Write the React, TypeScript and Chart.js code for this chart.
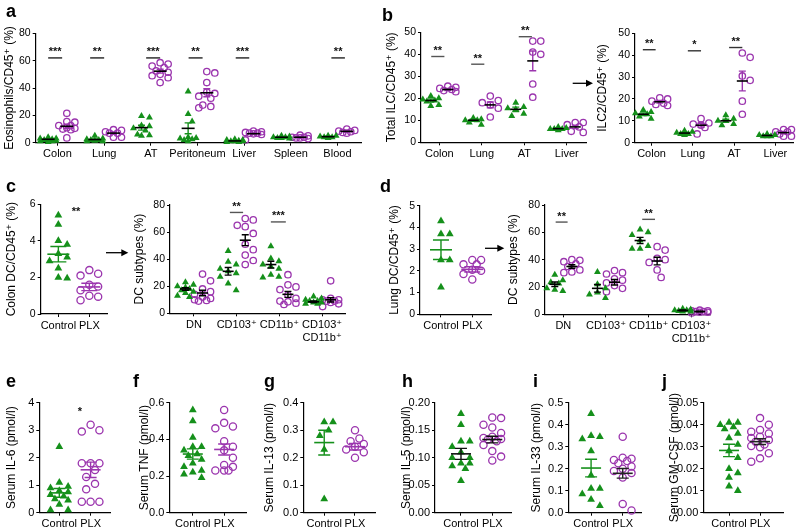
import React, { useEffect, useRef } from 'react';
import { Chart, registerables } from 'chart.js';
Chart.register(...registerables);

const GREEN = '#15901b';
const PURPLE = '#9b35ae';
const FONT = '"Liberation Sans", Arial, Helvetica, "DejaVu Sans", sans-serif';

// ---------- Panel a: eosinophils ----------
const catsA = ['Colon', 'Lung', 'AT', 'Peritoneum', 'Liver', 'Spleen', 'Blood'];
const yTicksA = [0, 20, 40, 60, 80];
const eosCtl = [
  [4, 3, 3, 2.5, 2, 2, 1.5, 1, 1, 0.5],
  [5, 3, 2.5, 2, 2, 1.5, 1, 1],
  [19.5, 18.5, 12.5, 12, 10.5, 9, 6, 5.5, 5],
  [37.5, 21, 15.5, 4, 3.5, 3, 2.5, 2, 1],
  [2.5, 2, 2, 1.5, 1, 1, 1, 0.5, 0.5],
  [5, 4.5, 4, 4, 3.5, 3.5, 3],
  [5, 5, 4.5, 4, 4, 3.5],
];
const eosPlx = [
  [21.5, 15.5, 15, 12.5, 12.5, 11, 10.5, 10, 9.5, 3.5],
  [9.5, 9, 8, 7, 7, 4, 4],
  [58.5, 57.5, 56, 55, 52.5, 51.5, 50, 49, 47.5, 44],
  [52, 51, 44, 37, 36, 34, 32.5, 27.5, 26.5, 25.5],
  [8.5, 8, 7.5, 7, 7, 6.5, 6, 2],
  [5.5, 5, 4, 4, 3.5, 3.5, 3],
  [10, 9, 8.5, 8, 7.5, 7],
];
const eosCtlMean = [2.5, 2.3, 11, 10.5, 1.3, 4, 4.4];
const eosCtlSem = [0.4, 0.4, 1.8, 4, 0.2, 0.3, 0.3];
const eosPlxMean = [12, 7, 52.3, 36.5, 6.6, 4, 8.3];
const eosPlxSem = [1.5, 0.8, 1.4, 2.9, 0.6, 0.4, 0.5];
const eosSig = [
  { c: 0, from: -0.2, to: 0.1, y: 62, label: '***' },
  { c: 1, from: -0.3, to: 0, y: 62, label: '**' },
  { c: 2, from: -0.1, to: 0.2, y: 62, label: '***' },
  { c: 3, from: -0.19, to: 0.11, y: 62, label: '**' },
  { c: 4, from: -0.18, to: 0.11, y: 62, label: '***' },
  { c: 6, from: -0.13, to: 0.16, y: 62, label: '**' },
];

// ---------- Panel b: ILC ----------
const catsB = ['Colon', 'Lung', 'AT', 'Liver'];
const yTicksB = [0, 10, 20, 30, 40, 50];
const ilcCtl = [
  [21, 20, 19.5, 19, 18.5, 17, 16.5],
  [11, 10.5, 10, 10, 9, 8],
  [18, 16, 15.5, 15, 13, 12],
  [7, 6.5, 6, 6, 6, 5.5],
];
const ilcPlx = [
  [25.5, 25, 24.5, 24, 23.5, 23],
  [21, 19, 18, 17, 15.5, 11.5],
  [46, 46, 41, 40, 26.5, 20.5],
  [9, 9, 8, 7, 5, 4.5],
];
const ilcCtlMean = [19, 10, 15, 6.2];
const ilcCtlSem = [0.7, 0.5, 1, 0.3];
const ilcPlxMean = [24, 17, 37, 7];
const ilcPlxSem = [0.5, 1.3, 4.5, 0.8];
const ilcSig = [
  { c: 0, from: -0.19, to: 0.12, y: 39, label: '**' },
  { c: 1, from: -0.25, to: 0.06, y: 35.5, label: '**' },
  { c: 2, from: -0.13, to: 0.18, y: 48, label: '**' },
];
const ilc2Ctl = [
  [15, 14, 13.5, 13, 12, 11],
  [5.5, 5, 4.5, 4, 4, 3.5],
  [12.5, 11, 10, 10, 8.5, 8],
  [4, 3.5, 3.5, 3, 3, 3],
];
const ilc2Plx = [
  [20.5, 20, 19, 18, 17.5, 17],
  [11, 9, 8.5, 8, 7, 4],
  [41, 39, 30.5, 28.5, 19, 13],
  [6, 6, 5, 5, 4, 3, 3],
];
const ilc2CtlMean = [13, 4.4, 10, 3.3];
const ilc2CtlSem = [0.6, 0.3, 0.7, 0.2];
const ilc2PlxMean = [18.7, 8, 28.2, 4.6];
const ilc2PlxSem = [0.6, 0.9, 4.5, 0.5];
const ilc2Sig = [
  { c: 0, from: -0.21, to: 0.1, y: 42.5, label: '**' },
  { c: 1, from: -0.12, to: 0.2, y: 42, label: '*' },
  { c: 2, from: -0.12, to: 0.2, y: 43.5, label: '**' },
];

// ---------- Panel c / d: DC ----------
const groupCats = ['Control', 'PLX'];
const dcCats = ['DN', 'CD103⁺', 'CD11b⁺', ['CD103⁺', 'CD11b⁺']];
const yTicksDC = [0, 20, 40, 60, 80];
const colonDcCtl = [5.4, 4.9, 4.0, 3.8, 3.3, 3.1, 2.9, 2.5, 2.0, 1.95];
const colonDcPlx = [2.4, 2.2, 2.1, 1.6, 1.5, 1.3, 1.0, 0.95, 0.75];
const colonDcMean = [3.27, 1.48];
const colonDcSem = [0.42, 0.2];
const yTicksColonDc = [0, 2, 4, 6];
const colonSubCtl = [
  [23, 21, 20, 19, 18, 17, 16, 15, 13, 12],
  [46, 38, 36, 33, 31, 29.5, 27, 22, 17],
  [49.5, 40.5, 38.5, 36, 34.5, 33, 28.5, 27, 26.5],
  [12.5, 11, 10, 9, 9, 8, 8, 7, 7],
];
const colonSubPlx = [
  [29, 24, 18, 16, 14, 12, 11, 10, 9.5, 9],
  [70, 69, 65, 64, 59, 51, 47, 43, 39, 36],
  [28.5, 21, 19.5, 17.5, 13.5, 11, 9, 8.5, 7.5, 6.5],
  [24, 11, 10, 10, 9, 9, 8, 7, 5],
];
const colonSubCtlMean = [18, 31, 36, 8.5];
const colonSubCtlSem = [1, 2.8, 2.5, 0.6];
const colonSubPlxMean = [15, 54, 14, 10];
const colonSubPlxSem = [2, 4, 2.2, 1.6];
const colonSubSig = [
  { c: 1, from: -0.16, to: 0.15, y: 74.5, label: '**' },
  { c: 2, from: -0.2, to: 0.15, y: 67.5, label: '***' },
];
const lungDcCtl = [4.3, 3.7, 3.7, 2.5, 2.5, 1.25];
const lungDcPlx = [2.5, 2.5, 2.3, 2.3, 2.05, 2.0, 1.85, 1.6];
const lungDcMean = [2.97, 2.07];
const lungDcSem = [0.45, 0.12];
const yTicksLungDc = [0, 1, 2, 3, 4, 5];
const lungSubCtl = [
  [29, 25, 23.5, 22.5, 19, 18, 17],
  [31, 22, 19, 16, 14.5, 12],
  [62, 60, 58, 54, 50, 48, 48],
  [4, 3.5, 3, 3, 2.5, 2, 2],
];
const lungSubPlx = [
  [40, 39.5, 38.5, 37, 35, 32.5, 31, 30.5],
  [32, 30.5, 29.5, 26, 25, 23, 21, 19, 16.5],
  [49.5, 47, 41, 40, 38, 32.5, 27],
  [3, 2.5, 2.5, 2, 2, 1.5, 1.5, 1],
];
const lungSubCtlMean = [22, 19, 54, 2.8];
const lungSubCtlSem = [1.6, 2.8, 2.3, 0.3];
const lungSubPlxMean = [35, 23.5, 39, 2];
const lungSubPlxSem = [1.3, 2, 2.8, 0.2];
const lungSubSig = [
  { c: 0, from: -0.18, to: 0.1, y: 67.5, label: '**' },
  { c: 2, from: -0.15, to: 0.15, y: 69.5, label: '**' },
];

// ---------- Panels e-j: serum ----------
const il6Ctl = [2.4, 1.1, 0.95, 0.9, 0.8, 0.75, 0.65, 0.6, 0.5, 0.45, 0.3, 0.1, 0.1];
const il6Plx = [3.2, 3.0, 2.95, 1.8, 1.8, 1.8, 1.55, 1.3, 1.05, 0.85, 0.4, 0.4, 0.4];
const il6Mean = [0.72, 1.56];
const il6Sem = [0.16, 0.28];
const yTicksIl6 = [0, 1, 2, 3, 4];
const tnfCtl = [0.56, 0.5, 0.41, 0.36, 0.36, 0.34, 0.32, 0.31, 0.29, 0.27, 0.25, 0.23, 0.22, 0.21, 0.19];
const tnfPlx = [0.56, 0.49, 0.47, 0.46, 0.39, 0.36, 0.34, 0.3, 0.26, 0.25, 0.23, 0.23, 0.23];
const tnfMean = [0.32, 0.345];
const tnfSem = [0.028, 0.03];
const yTicksTnf = [0, 0.2, 0.4, 0.6];
const il13Ctl = [0.33, 0.33, 0.3, 0.28, 0.23, 0.05];
const il13Plx = [0.3, 0.27, 0.26, 0.25, 0.24, 0.23, 0.22, 0.2];
const il13Mean = [0.255, 0.24];
const il13Sem = [0.045, 0.012];
const yTicksIl13 = [0, 0.1, 0.2, 0.3, 0.4];
const il5Ctl = [0.18, 0.16, 0.13, 0.13, 0.12, 0.11, 0.1, 0.1, 0.09, 0.09, 0.085, 0.08, 0.058];
const il5Plx = [0.173, 0.172, 0.16, 0.155, 0.145, 0.138, 0.136, 0.134, 0.133, 0.13, 0.123, 0.112, 0.102, 0.095];
const il5Mean = [0.107, 0.133];
const il5Sem = [0.01, 0.006];
const yTicksIl5 = [0, 0.05, 0.1, 0.15, 0.2];
const il33Ctl = [0.45, 0.35, 0.345, 0.335, 0.28, 0.17, 0.11, 0.11, 0.085, 0.06, 0.032];
const il33Plx = [0.345, 0.25, 0.245, 0.24, 0.235, 0.225, 0.21, 0.2, 0.19, 0.18, 0.16, 0.04, 0.01];
const il33Mean = [0.203, 0.179];
const il33Sem = [0.04, 0.022];
const yTicksIl33 = [0, 0.1, 0.2, 0.3, 0.4, 0.5];
const gmCtl = [0.041, 0.041, 0.04, 0.039, 0.038, 0.036, 0.034, 0.031, 0.028, 0.025, 0.02, 0.018, 0.016, 0.012, 0.01];
const gmPlx = [0.043, 0.04, 0.0376, 0.0368, 0.036, 0.0345, 0.034, 0.033, 0.0323, 0.031, 0.0303, 0.0297, 0.027, 0.0247, 0.0232];
const gmMean = [0.0283, 0.0323];
const gmSem = [0.0028, 0.0013];
const yTicksGm = [0, 0.01, 0.02, 0.03, 0.04, 0.05];

// ---------- types & helpers ----------
type Group = {
  vals: number[][]; pos: number[]; mean: number[]; sem: number[];
  color: string; shape: string; meanColor: string; barColor: string;
};
type Sig = { c: number; from: number; to: number; y: number; label: string; line?: boolean };
type Spec = {
  area: number[]; titleX: number; title: string; xMin: number; xMax: number;
  cats: any[]; yTicks: number[]; yDec: number; yTickSize: number;
  groups: Group[]; sig: Sig[]; sigColor: string;
  halfW: number; capW: number; rTri: number; rCirc: number; xH: number; maxOff: number;
};

function multiGroups(ctl: number[][], plx: number[][], cm: number[], cs: number[], pm: number[], ps: number[], meanCol: string | null, barCol: string | null): Group[] {
  return [
    { vals: ctl, pos: ctl.map((_, i) => i - 0.2), mean: cm, sem: cs, color: GREEN, shape: 'triangle', meanColor: meanCol || GREEN, barColor: barCol || GREEN },
    { vals: plx, pos: plx.map((_, i) => i + 0.2), mean: pm, sem: ps, color: PURPLE, shape: 'circle', meanColor: meanCol || PURPLE, barColor: barCol || PURPLE },
  ];
}
function pairGroups(ctl: number[], plx: number[], m: number[], s: number[], ctlCol: string, plxCol: string): Group[] {
  return [
    { vals: [ctl], pos: [0], mean: [m[0]], sem: [s[0]], color: GREEN, shape: 'triangle', meanColor: ctlCol, barColor: ctlCol },
    { vals: [plx], pos: [1], mean: [m[1]], sem: [s[1]], color: PURPLE, shape: 'circle', meanColor: plxCol, barColor: plxCol },
  ];
}

function swarm(vals: number[], c: number, pxX: number, pxY: number, d: number, maxOff: number): number[] {
  const idx = vals.map((_, i) => i).sort((a, b) => vals[b] - vals[a]);
  const placed: number[][] = [];
  const out = new Array(vals.length).fill(c);
  const step = d / 2;
  for (const i of idx) {
    const y = vals[i] * pxY;
    let best = 0, bestScore = -1;
    for (let k = 0; k < 40; k++) {
      const o = k === 0 ? 0 : (k % 2 ? 1 : -1) * Math.ceil(k / 2) * step;
      if (Math.abs(o) > maxOff) break;
      let minD = Infinity;
      for (const p of placed) minD = Math.min(minD, Math.hypot(p[0] - o, p[1] - y));
      if (minD >= d) { best = o; bestScore = Infinity; break; }
      if (minD > bestScore) { bestScore = minD; best = o; }
    }
    placed.push([best, y]);
    out[i] = c + best / pxX;
  }
  return out;
}

const top3 = { halfW: 6, capW: 3.5, rTri: 4, rCirc: 3.2, maxOff: 10 };
const pair = { halfW: 10, capW: 6, rTri: 4.5, rCirc: 3.6, maxOff: 11 };

const SPECS: Spec[] = [
  {
    area: [35.7, 33.3, 361.7, 142.7], titleX: 10, title: 'Eosinophils/CD45⁺ (%)', xMin: -0.467, xMax: 6.52,
    cats: catsA, yTicks: yTicksA, yDec: 0, yTickSize: 10.5,
    groups: multiGroups(eosCtl, eosPlx, eosCtlMean, eosCtlSem, eosPlxMean, eosPlxSem, '#000', null),
    sig: eosSig, sigColor: '#222', xH: 30, ...top3, halfW: 6.5,
  },
  {
    area: [421, 32.3, 586.7, 142.3], titleX: 392, title: 'Total ILC/CD45⁺ (%)', xMin: -0.431, xMax: 3.47,
    cats: catsB, yTicks: yTicksB, yDec: 0, yTickSize: 10.5,
    groups: multiGroups(ilcCtl, ilcPlx, ilcCtlMean, ilcCtlSem, ilcPlxMean, ilcPlxSem, '#000', null),
    sig: ilcSig, sigColor: '#555', xH: 30, ...top3, halfW: 5.5,
  },
  {
    area: [635, 33.3, 797, 142.7], titleX: 603, title: 'ILC2/CD45⁺ (%)', xMin: -0.4, xMax: 3.44,
    cats: catsB, yTicks: yTicksB, yDec: 0, yTickSize: 10.5,
    groups: multiGroups(ilc2Ctl, ilc2Plx, ilc2CtlMean, ilc2CtlSem, ilc2PlxMean, ilc2PlxSem, '#000', null),
    sig: ilc2Sig, sigColor: '#333', xH: 30, ...top3, halfW: 5.5,
  },
  {
    area: [40.7, 204.3, 107.3, 314], titleX: 12, title: 'Colon DC/CD45⁺ (%)', xMin: -0.57, xMax: 1.58,
    cats: groupCats, yTicks: yTicksColonDc, yDec: 0, yTickSize: 10.5,
    groups: pairGroups(colonDcCtl, colonDcPlx, colonDcMean, colonDcSem, GREEN, PURPLE),
    sig: [{ c: 0, from: 0.57, to: 0.57, y: 5.29, label: '**', line: false }], sigColor: '#222', xH: 30, ...pair, halfW: 11, capW: 8,
  },
  {
    area: [170, 205, 345, 313.3], titleX: 140, title: 'DC subtypes (%)', xMin: -0.562, xMax: 3.536,
    cats: dcCats, yTicks: yTicksDC, yDec: 0, yTickSize: 10.5,
    groups: multiGroups(colonSubCtl, colonSubPlx, colonSubCtlMean, colonSubCtlSem, colonSubPlxMean, colonSubPlxSem, '#000', '#000'),
    sig: colonSubSig, sigColor: '#555', xH: 44, ...top3, halfW: 5.5,
  },
  {
    area: [420, 205.7, 491.7, 314.3], titleX: 395, title: 'Lung DC/CD45⁺ (%)', xMin: -0.67, xMax: 1.62,
    cats: groupCats, yTicks: yTicksLungDc, yDec: 0, yTickSize: 10.5,
    groups: pairGroups(lungDcCtl, lungDcPlx, lungDcMean, lungDcSem, GREEN, PURPLE),
    sig: [], sigColor: '#222', xH: 30, ...pair, halfW: 11, capW: 8,
  },
  {
    area: [545, 205, 710, 314.3], titleX: 514, title: 'DC subtypes (%)', xMin: -0.43, xMax: 3.44,
    cats: dcCats, yTicks: yTicksDC, yDec: 0, yTickSize: 10.5,
    groups: multiGroups(lungSubCtl, lungSubPlx, lungSubCtlMean, lungSubCtlSem, lungSubPlxMean, lungSubPlxSem, '#000', '#000'),
    sig: lungSubSig, sigColor: '#555', xH: 44, ...top3, halfW: 5.5,
  },
  {
    area: [39.3, 402.7, 110, 512.7], titleX: 12, title: 'Serum IL-6 (pmol/l)', xMin: -0.64, xMax: 1.62,
    cats: groupCats, yTicks: yTicksIl6, yDec: 0, yTickSize: 11,
    groups: pairGroups(il6Ctl, il6Plx, il6Mean, il6Sem, GREEN, PURPLE),
    sig: [{ c: 0, from: 0.66, to: 0.66, y: 3.47, label: '*', line: false }], sigColor: '#222', xH: 30, ...pair,
  },
  {
    area: [169.3, 402.7, 246.7, 512.7], titleX: 145, title: 'Serum TNF (pmol/l)', xMin: -0.75, xMax: 1.72,
    cats: groupCats, yTicks: yTicksTnf, yDec: 1, yTickSize: 11,
    groups: pairGroups(tnfCtl, tnfPlx, tnfMean, tnfSem, GREEN, PURPLE),
    sig: [], sigColor: '#222', xH: 30, ...pair,
  },
  {
    area: [303.3, 402.7, 375, 512.7], titleX: 270, title: 'Serum IL-13 (pmol/l)', xMin: -0.68, xMax: 1.65,
    cats: groupCats, yTicks: yTicksIl13, yDec: 1, yTickSize: 11,
    groups: pairGroups(il13Ctl, il13Plx, il13Mean, il13Sem, GREEN, PURPLE),
    sig: [], sigColor: '#222', xH: 30, ...pair,
  },
  {
    area: [435, 402.7, 511.7, 512.7], titleX: 406.7, title: 'Serum IL-5 (pmol/l)', xMin: -0.83, xMax: 1.62,
    cats: groupCats, yTicks: yTicksIl5, yDec: 2, yTickSize: 11,
    groups: pairGroups(il5Ctl, il5Plx, il5Mean, il5Sem, '#111', '#111'),
    sig: [], sigColor: '#222', xH: 30, ...pair,
  },
  {
    area: [568.3, 402.7, 641.7, 512.7], titleX: 537, title: 'Serum IL-33 (pmol/l)', xMin: -0.72, xMax: 1.6,
    cats: groupCats, yTicks: yTicksIl33, yDec: 1, yTickSize: 11,
    groups: pairGroups(il33Ctl, il33Plx, il33Mean, il33Sem, GREEN, '#222'),
    sig: [], sigColor: '#222', xH: 30, ...pair,
  },
  {
    area: [703.3, 402.7, 783.3, 512.7], titleX: 675, title: 'Serum GM-CSF (pmol/l)', xMin: -0.83, xMax: 1.75,
    cats: groupCats, yTicks: yTicksGm, yDec: 2, yTickSize: 11,
    groups: pairGroups(gmCtl, gmPlx, gmMean, gmSem, GREEN, '#222'),
    sig: [], sigColor: '#222', xH: 30, ...pair,
  },
];

const LETTERS: [string, number, number][] = [
  ['a', 6, 2], ['b', 382, 6], ['c', 6, 177], ['d', 380, 177],
  ['e', 6, 371.5], ['f', 133, 371.5], ['g', 264, 371.5], ['h', 402, 371.5], ['i', 533, 371.5], ['j', 662, 371.5],
];

function ChartBox({ spec }: { spec: Spec }) {
  const ref = useRef<HTMLCanvasElement>(null);
  const [L, T, R, B] = spec.area;
  const left = Math.floor(spec.titleX - 7.2);
  const top = Math.floor(T - 18);
  const right = Math.min(798, Math.ceil(R + 8));
  const bottom = Math.ceil(B + spec.xH);
  const W = right - left;
  const H = bottom - top;

  useEffect(() => {
    const yMax = spec.yTicks[spec.yTicks.length - 1];
    const pxX = (R - L) / (spec.xMax - spec.xMin);
    const pxY = (B - T) / yMax;
    const datasets = spec.groups.map((g) => {
      const pts: { x: number; y: number }[] = [];
      const r = g.shape === 'triangle' ? spec.rTri : spec.rCirc;
      g.vals.forEach((vs, i) => {
        const xs = swarm(vs, g.pos[i], pxX, pxY, 2 * spec.rCirc + 1.6, spec.maxOff);
        vs.forEach((v, k) => pts.push({ x: xs[k], y: v }));
      });
      return {
        data: pts,
        showLine: false,
        clip: false as any,
        pointStyle: g.shape as any,
        pointRadius: r,
        pointHoverRadius: r,
        pointBackgroundColor: g.shape === 'triangle' ? g.color : 'rgba(0,0,0,0)',
        pointBorderColor: g.color,
        pointBorderWidth: g.shape === 'triangle' ? 0 : 1.3,
      };
    });

    const statsPlugin = {
      id: 'stats',
      afterDatasetsDraw(chart: any) {
        const ctx = chart.ctx;
        const x = chart.scales.x;
        const y = chart.scales.y;
        ctx.save();
        ctx.lineWidth = 1.4;
        for (const g of spec.groups) {
          g.mean.forEach((m, i) => {
            const cx = x.getPixelForValue(g.pos[i]);
            const my = y.getPixelForValue(m);
            const t = y.getPixelForValue(m + g.sem[i]);
            const b = y.getPixelForValue(m - g.sem[i]);
            ctx.strokeStyle = g.barColor;
            ctx.beginPath();
            ctx.moveTo(cx, t); ctx.lineTo(cx, b);
            ctx.moveTo(cx - spec.capW, t); ctx.lineTo(cx + spec.capW, t);
            ctx.moveTo(cx - spec.capW, b); ctx.lineTo(cx + spec.capW, b);
            ctx.stroke();
            ctx.strokeStyle = g.meanColor;
            ctx.lineWidth = 1.6;
            ctx.beginPath();
            ctx.moveTo(cx - spec.halfW, my); ctx.lineTo(cx + spec.halfW, my);
            ctx.stroke();
            ctx.lineWidth = 1.4;
          });
        }
        for (const s of spec.sig) {
          const x0 = x.getPixelForValue(s.c + s.from);
          const x1 = x.getPixelForValue(s.c + s.to);
          const ly = y.getPixelForValue(s.y);
          if (s.line !== false) {
            ctx.strokeStyle = spec.sigColor;
            ctx.lineWidth = 1.4;
            ctx.beginPath(); ctx.moveTo(x0, ly); ctx.lineTo(x1, ly); ctx.stroke();
          }
          ctx.fillStyle = '#111';
          ctx.font = `bold 11px ${FONT}`;
          ctx.textAlign = 'center';
          ctx.textBaseline = 'alphabetic';
          ctx.fillText(s.label, (x0 + x1) / 2, ly - 2.5);
        }
        ctx.restore();
      },
    };

    const axisCommon = {
      grid: { drawOnChartArea: false, drawTicks: true, tickLength: 3, color: '#000', lineWidth: 1 },
      border: { display: true, color: '#000', width: 1.2 },
    };

    const chart = new Chart(ref.current as HTMLCanvasElement, {
      type: 'scatter',
      data: { datasets: datasets as any },
      options: {
        animation: false,
        responsive: false,
        maintainAspectRatio: false,
        devicePixelRatio: 1,
        events: [],
        layout: { padding: { left: 0, top: T - top, right: right - R, bottom: 0 } },
        plugins: { legend: { display: false }, tooltip: { enabled: false } },
        scales: {
          x: {
            type: 'linear',
            min: spec.xMin,
            max: spec.xMax,
            afterBuildTicks: (s: any) => { s.ticks = spec.cats.map((_: any, i: number) => ({ value: i })); },
            afterFit: (s: any) => { s.height = bottom - B; },
            ...axisCommon,
            ticks: {
              autoSkip: false, maxRotation: 0, minRotation: 0, padding: 2, color: '#000',
              font: { family: FONT, size: 11 },
              callback: (v: any) => spec.cats[Math.round(Number(v))] ?? '',
            },
          },
          y: {
            type: 'linear',
            min: 0,
            max: yMax,
            afterBuildTicks: (s: any) => { s.ticks = spec.yTicks.map((v) => ({ value: v })); },
            afterFit: (s: any) => { s.width = L - left; },
            ...axisCommon,
            ticks: {
              padding: 2, color: '#000',
              font: { family: FONT, size: spec.yTickSize },
              callback: (v: any) => Number(v).toFixed(spec.yDec),
            },
            title: { display: true, text: spec.title, color: '#000', font: { family: FONT, size: 12 }, padding: 0 },
          },
        },
      } as any,
      plugins: [statsPlugin as any],
    });
    return () => chart.destroy();
  }, []);

  return (
    <canvas
      ref={ref}
      width={W}
      height={H}
      style={{ position: 'absolute', left, top, width: W, height: H }}
    />
  );
}

function Arrow({ x1, x2, y }: { x1: number; x2: number; y: number }) {
  return (
    <g>
      <line x1={x1} y1={y} x2={x2 - 5} y2={y} stroke="#000" strokeWidth={1.3} />
      <polygon points={`${x2},${y} ${x2 - 7},${y - 3.5} ${x2 - 7},${y + 3.5}`} fill="#000" />
    </g>
  );
}

export default function App() {
  return (
    <div style={{ position: 'absolute', left: 0, top: 0, width: 798, height: 531, background: '#fff', overflow: 'hidden' }}>
      {SPECS.map((s, i) => <ChartBox key={i} spec={s} />)}
      {LETTERS.map(([t, x, y]) => (
        <div key={t} style={{ position: 'absolute', left: x, top: y, fontFamily: FONT, fontWeight: 'bold', fontSize: 18, lineHeight: '18px', color: '#000' }}>{t}</div>
      ))}
      <svg width={798} height={531} style={{ position: 'absolute', left: 0, top: 0, pointerEvents: 'none' }}>
        <Arrow x1={572.7} x2={593} y={83.3} />
        <Arrow x1={106} x2={128.3} y={252.7} />
        <Arrow x1={485} x2={504.3} y={248.3} />
      </svg>
    </div>
  );
}
